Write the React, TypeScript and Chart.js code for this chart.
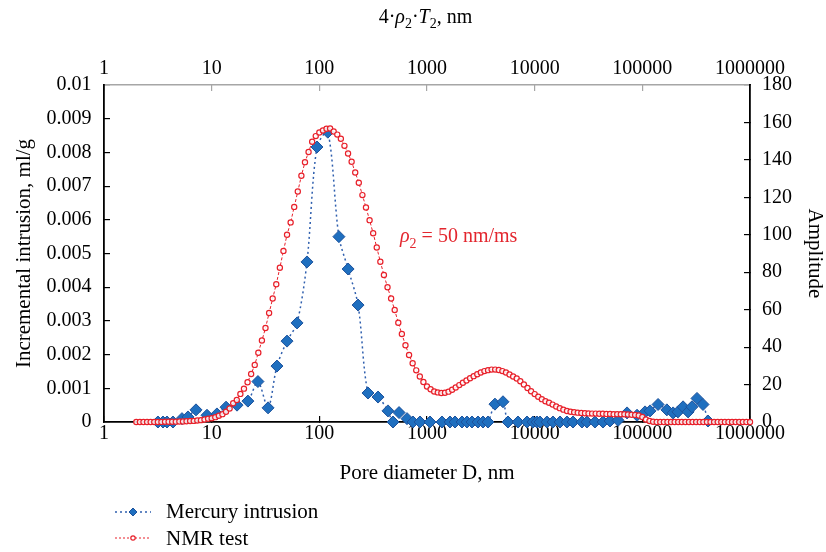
import React, { useEffect, useRef } from "react";
import { Chart, registerables } from "chart.js";

Chart.register(...registerables);

const FONT = "'Liberation Serif', 'Times New Roman', serif";

// Tick values (decades) shared by bottom and top axes
const decadeTicks = [1, 10, 100, 1000, 10000, 100000, 1000000];

// Mercury intrusion: pore diameter (nm) and incremental intrusion (ml/g)
const mercuryD = [
  3.17, 3.53, 3.85, 4.37, 5.3, 6.03, 7.15, 9.05, 11.2, 13.6, 17.2, 21.7, 26.9, 33.4,
  40.4, 50.1, 62.1, 76.8, 95.1, 120, 152, 185, 229, 283, 351, 434, 483, 550, 652, 741,
  861, 1066, 1378, 1636, 1820, 2114, 2351, 2618, 2976, 3313, 3684, 4278, 5080, 5652,
  7000, 8490, 9640, 10500, 11200, 13000, 14800, 17200, 19950, 22700, 27500, 30600,
  36300, 43100, 50100, 59500, 72100, 89300, 106000, 118000, 140000, 169000, 193000,
  214000, 239000, 266000, 289000, 322000, 366000, 407000,
];
const mercuryV = [
  0, 0, 0, 0, 0.0001, 0.00015, 0.00036, 0.0002, 0.00024, 0.00044, 0.0005, 0.00062, 0.0012, 0.00042,
  0.00166, 0.0024, 0.00294, 0.00475, 0.00816, 0.0086, 0.0055, 0.00454, 0.00347, 0.00086, 0.00074, 0.00033, 0, 0.00028, 0.0001, 0,
  0, 0, 0, 0, 0, 0, 0, 0, 0, 0, 0, 0.00053, 0.0006, 0,
  0, 0, 0, 0, 0, 0, 0, 0, 0, 0, 0, 0,
  0, 0, 0.00003, 0.00005, 0.00027, 0.0002, 0.0003, 0.00033, 0.00052, 0.00036, 0.00027,
  0.0003, 0.00045, 0.0003, 0.00045, 0.0007, 0.00052, 0.00003,
];

// NMR test: 4*rho2*T2 (nm) and amplitude
const nmrD = [
  1.995, 2.154, 2.326, 2.512, 2.712, 2.929, 3.162, 3.415, 3.687, 3.981, 4.299, 4.642, 5.012, 5.412, 5.843, 6.31, 6.813, 7.356, 7.943, 8.577, 9.261,
  10, 10.8, 11.66, 12.59, 13.59, 14.68, 15.85, 17.11, 18.48, 19.95, 21.54, 23.26, 25.12, 27.12, 29.29, 31.62, 34.15, 36.87, 39.81, 42.99, 46.42, 50.12, 54.12, 58.43, 63.1, 68.13, 73.56, 79.43, 85.77, 92.61,
  100, 108, 116.6, 125.9, 135.9, 146.8, 158.5, 171.1, 184.8, 199.5, 215.4, 232.6, 251.2, 271.2, 292.9, 316.2, 341.5, 368.7, 398.1, 429.9, 464.2, 501.2, 541.2, 584.3, 631, 681.3, 735.6, 794.3, 857.7, 926.1,
  1000, 1080, 1166, 1259, 1359, 1468, 1585, 1711, 1848, 1995, 2154, 2326, 2512, 2712, 2929, 3162, 3415, 3687, 3981, 4299, 4642, 5012, 5412, 5843, 6310, 6813, 7356, 7943, 8577, 9261,
  10000, 10798, 11659, 12589, 13594, 14678, 15849, 17113, 18478, 19953, 21544, 23263, 25119, 27123, 29286, 31623, 34145, 36869, 39811, 42987, 46416, 50119, 54117, 58434, 63096, 68129, 73564, 79433, 85770, 92611,
  100000, 107980, 116590, 125890, 135940, 146780, 158490, 171130, 184780, 199530, 215440, 232630, 251190, 271230, 292860, 316230, 341450, 368690, 398110, 429870, 464160, 501190, 541170, 584340, 630960, 681290, 735640, 794330, 857700, 926110, 1000000,
];
const nmrA = [
  0, 0, 0, 0, 0, 0, 0, 0.05, 0.1, 0.1, 0.15, 0.2, 0.25, 0.3, 0.4, 0.5, 0.6, 0.8, 1.0, 1.3, 1.7,
  2.0, 2.6, 3.3, 4.2, 5.5, 7.2, 10.0, 11.8, 15.0, 17.8, 21.2, 25.6, 30.5, 37.0, 43.5, 50.2, 58.2, 66.0, 73.6, 82.4, 91.4, 100.0, 106.6, 114.9, 123.1, 131.5, 138.8, 144.2, 149.7, 152.7,
  154.6, 155.7, 156.6, 156.8, 155.2, 153.5, 151.3, 147.5, 143.4, 139.0, 133.3, 127.8, 121.2, 114.6, 107.8, 100.8, 93.2, 85.6, 78.5, 72.0, 66.0, 59.8, 53.0, 47.0, 41.0, 35.8, 31.4, 27.6, 24.3, 21.4,
  19.0, 17.5, 16.3, 15.8, 15.5, 15.6, 16.2, 17.2, 18.4, 19.7, 21.0, 22.2, 23.4, 24.5, 25.5, 26.4, 27.2, 27.7, 28.0, 28.0, 27.8, 27.2, 26.4, 25.4, 24.3, 23.2, 21.8, 20.0, 18.2, 16.4,
  14.9, 13.5, 12.2, 11.1, 10.3, 9.3, 8.3, 7.4, 6.6, 5.9, 5.5, 5.2, 5.0, 4.8, 4.7, 4.6, 4.5, 4.5, 4.4, 4.4, 4.3, 4.3, 4.2, 4.2, 4.1, 4.1, 4.0, 3.9, 3.8, 3.5,
  2.7, 1.3, 0.5, 0.1, 0, 0, 0, 0, 0, 0, 0, 0, 0, 0, 0, 0, 0, 0, 0, 0, 0, 0, 0, 0, 0, 0, 0, 0, 0, 0, 0,
];

const BLUE_LINE = "#2f5fae";
const BLUE_FILL = "#1f6fbf";
const BLUE_EDGE = "#1d529c";
const RED = "#e8202a";

type Part = [string, "n" | "i" | "s"];

function drawRich(ctx: CanvasRenderingContext2D, parts: Part[], x: number, y: number, size: number, color: string, center: boolean) {
  const fontFor = (s: string) =>
    s === "i" ? `italic ${size}px ${FONT}` : s === "s" ? `${Math.round(size * 0.72)}px ${FONT}` : `${size}px ${FONT}`;
  let total = 0;
  for (const [t, s] of parts) {
    ctx.font = fontFor(s);
    total += ctx.measureText(t).width;
  }
  let cx = center ? x - total / 2 : x;
  ctx.fillStyle = color;
  ctx.textAlign = "left";
  ctx.textBaseline = "alphabetic";
  for (const [t, s] of parts) {
    ctx.font = fontFor(s);
    ctx.fillText(t, cx, s === "s" ? y + size * 0.28 : y);
    cx += ctx.measureText(t).width;
  }
}

const overlayPlugin = {
  id: "overlayText",
  afterDraw(chart: any) {
    const ctx: CanvasRenderingContext2D = chart.ctx;
    ctx.save();
    // Top axis title
    drawRich(ctx, [["4·", "n"], ["ρ", "i"], ["2", "s"], ["·", "n"], ["T", "i"], ["2", "s"], [", nm", "n"]], 425.5, 22.5, 20, "#000", true);
    // Annotation
    drawRich(ctx, [["ρ", "i"], ["2", "s"], [" = 50 nm/ms", "n"]], 400, 242, 20, "#e3262e", false);

    // Legend
    ctx.lineWidth = 1.5;
    ctx.strokeStyle = BLUE_LINE;
    ctx.setLineDash([2, 3]);
    ctx.beginPath();
    ctx.moveTo(115, 512);
    ctx.lineTo(151, 512);
    ctx.stroke();
    ctx.setLineDash([]);
    ctx.fillStyle = BLUE_FILL;
    ctx.strokeStyle = BLUE_EDGE;
    ctx.lineWidth = 1;
    ctx.beginPath();
    ctx.moveTo(133, 508);
    ctx.lineTo(137, 512);
    ctx.lineTo(133, 516);
    ctx.lineTo(129, 512);
    ctx.closePath();
    ctx.fill();
    ctx.stroke();

    ctx.lineWidth = 1.2;
    ctx.strokeStyle = RED;
    ctx.setLineDash([2, 2]);
    ctx.beginPath();
    ctx.moveTo(115, 538);
    ctx.lineTo(151, 538);
    ctx.stroke();
    ctx.setLineDash([]);
    ctx.fillStyle = "#fff";
    ctx.beginPath();
    ctx.arc(133, 538, 2.2, 0, Math.PI * 2);
    ctx.fill();
    ctx.stroke();

    ctx.fillStyle = "#000";
    ctx.font = `21px ${FONT}`;
    ctx.textAlign = "left";
    ctx.textBaseline = "alphabetic";
    ctx.fillText("Mercury intrusion", 166, 518);
    ctx.fillText("NMR test", 166, 544.5);
    ctx.restore();
  },
};

const TL = -6;
const tickFont = { family: FONT, size: 20 };
const titleFont = { family: FONT, size: 21, lineHeight: 1 };

export default function App() {
  const ref = useRef<HTMLCanvasElement | null>(null);
  useEffect(() => {
    document.body.style.margin = "0";
    const canvas = ref.current;
    if (!canvas) return;
    const setDecades = (s: any) => {
      s.ticks = decadeTicks.map((v) => ({ value: v }));
    };
    const chart = new Chart(canvas, {
      type: "scatter",
      data: {
        datasets: [
          {
            label: "Mercury intrusion",
            data: mercuryD.map((d, i) => ({ x: d, y: mercuryV[i] })),
            xAxisID: "x",
            yAxisID: "y",
            showLine: true,
            borderColor: BLUE_LINE,
            borderWidth: 1.5,
            borderDash: [2, 3],
            tension: 0.3,
            pointStyle: "rectRot",
            pointRadius: 6,
            pointBackgroundColor: BLUE_FILL,
            pointBorderColor: BLUE_EDGE,
            pointBorderWidth: 1,
            clip: false,
            order: 1,
          } as any,
          {
            label: "NMR test",
            data: nmrD.map((d, i) => ({ x: d, y: nmrA[i] })),
            xAxisID: "x",
            yAxisID: "y2",
            showLine: true,
            borderColor: RED,
            borderWidth: 1,
            borderDash: [3, 2],
            tension: 0,
            pointStyle: "circle",
            pointRadius: 2.6,
            pointBackgroundColor: "rgba(255,255,255,0.85)",
            pointBorderColor: RED,
            pointBorderWidth: 1.2,
            clip: false,
            order: 0,
          } as any,
        ],
      },
      options: {
        animation: false,
        responsive: false,
        devicePixelRatio: 1,
        layout: { padding: 0 },
        plugins: { legend: { display: false }, tooltip: { enabled: false }, title: { display: false } },
        scales: {
          x: {
            type: "logarithmic",
            position: "bottom",
            min: 1,
            max: 1000000,
            afterBuildTicks: setDecades,
            afterFit: (s: any) => {
              s.height = 130;
            },
            ticks: { callback: (v: any) => String(v), font: tickFont, color: "#000", padding: 5.5, maxRotation: 0, autoSkip: false },
            grid: { drawOnChartArea: false, drawTicks: true, tickLength: TL, color: "#000", tickColor: "#000", lineWidth: 1.2 },
            border: { display: true, color: "#000", width: 1.8 },
            title: { display: true, text: "Pore diameter D, nm", font: titleFont, color: "#000", padding: { top: 0, bottom: 68.5 } },
          },
          x2: {
            type: "logarithmic",
            position: "top",
            min: 1,
            max: 1000000,
            afterBuildTicks: setDecades,
            afterFit: (s: any) => {
              s.height = 85;
            },
            ticks: { callback: (v: any) => String(v), font: tickFont, color: "#000", padding: 10, maxRotation: 0, autoSkip: false },
            grid: { drawOnChartArea: false, drawTicks: true, tickLength: TL, color: "#a6a6a6", tickColor: "#a6a6a6", lineWidth: 1.2 },
            border: { display: true, color: "#a6a6a6", width: 1.5 },
          },
          y: {
            type: "linear",
            position: "left",
            min: 0,
            max: 0.01,
            afterFit: (s: any) => {
              s.width = 104;
            },
            ticks: {
              stepSize: 0.001,
              callback: (v: any) => (v === 0 ? "0" : String(Number(Number(v).toFixed(3)))),
              font: tickFont,
              color: "#000",
              padding: 18.5,
            },
            grid: { drawOnChartArea: false, drawTicks: true, tickLength: TL, color: "#000", tickColor: "#000", lineWidth: 1.2 },
            border: { display: true, color: "#000", width: 1.8 },
            title: { display: true, text: "Incremental intrusion, ml/g", font: titleFont, color: "#000", padding: { top: 13.5, bottom: 0 } },
          },
          y2: {
            type: "linear",
            position: "right",
            min: 0,
            max: 180,
            afterFit: (s: any) => {
              s.width = 76;
            },
            ticks: { stepSize: 20, font: tickFont, color: "#000", padding: 18 },
            grid: { drawOnChartArea: false, drawTicks: true, tickLength: TL, color: "#000", tickColor: "#000", lineWidth: 1.2 },
            border: { display: true, color: "#000", width: 1.8 },
            title: { display: true, text: "Amplitude", font: titleFont, color: "#000", padding: { top: 0.5, bottom: 0 } },
          },
        },
      } as any,
      plugins: [overlayPlugin],
    });
    return () => chart.destroy();
  }, []);
  return (
    <div style={{ width: 826, height: 552 }}>
      <canvas ref={ref} width={826} height={552} style={{ display: "block", width: 826, height: 552 }} />
    </div>
  );
}
